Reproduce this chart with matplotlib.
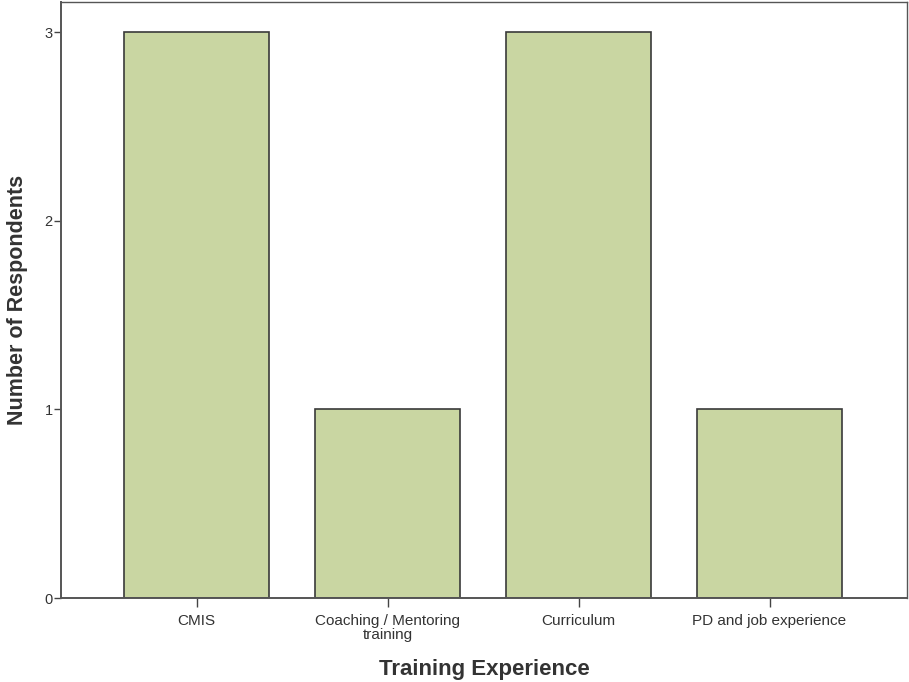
import numpy as np
import matplotlib
matplotlib.use('Agg')
import matplotlib.pyplot as plt

# data
categories = ['CMIS', 'Coaching / Mentoring\ntraining', 'Curriculum', 'PD and job experience']
counts = [3, 1, 3, 1]

plt.rcParams['font.family'] = ['Liberation Sans', 'DejaVu Sans']

fig = plt.figure(figsize=(9.09, 6.82), dpi=100)
ax = fig.add_axes([61/909, 1 - 598/682, (907-61)/909, (598-2)/682])

x = np.arange(len(categories))
ax.bar(x, counts, width=0.76, color='#c9d6a2', edgecolor='#3a3a3a', linewidth=1.2)

ax.set_xlim(-0.71, 3.72)
ax.set_ylim(0, 3.16)
ax.set_yticks([0, 1, 2, 3])
ax.set_xticks(x)
ax.set_xticklabels(categories, fontsize=11, color='#333333', linespacing=1.0)
ax.tick_params(axis='y', labelsize=10.5, labelcolor='#333333', length=5, width=1, color='#444444', pad=1)
ax.tick_params(axis='x', length=6.5, width=1, color='#444444', pad=5)

for s in ax.spines.values():
    s.set_color('#555555')
    s.set_linewidth(1.0)
ax.spines['left'].set_linewidth(1.4)
ax.spines['bottom'].set_linewidth(1.4)

ax.set_xlabel('Training Experience', fontsize=16, fontweight='bold', color='#333333', labelpad=12)
ax.set_ylabel('Number of Respondents', fontsize=15.5, fontweight='bold', color='#333333', labelpad=12)

fig.savefig('out.png', dpi=100)
